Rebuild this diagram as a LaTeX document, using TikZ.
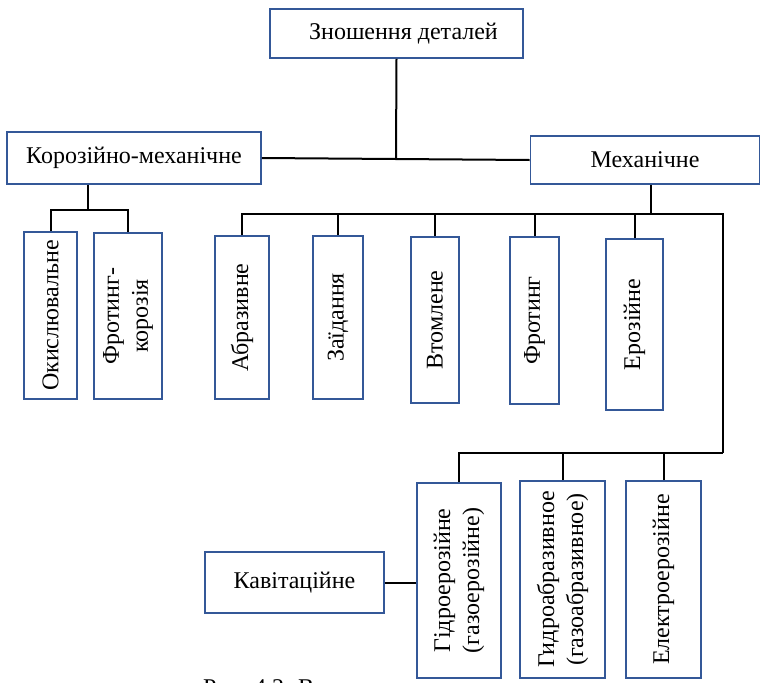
\documentclass[tikz,border=0pt]{standalone}
\usepackage{fontspec}
\setmainfont{Liberation Serif}
\definecolor{boxblue}{RGB}{52,88,152}
\begin{document}
\begin{tikzpicture}[x=1pt,y=-1pt,
  box/.style={draw=boxblue,line width=1.7pt,inner sep=0pt,fill=white},
  txt/.style={font=\fontsize{24}{29}\selectfont,inner sep=0pt},
  vtxt/.style={font=\fontsize{24}{29}\selectfont,inner sep=0pt,rotate=90,align=center},
  conn/.style={line width=2pt,black}]
\clip (0,0) rectangle (761,683);
% boxes
\node[box,minimum width=253,minimum height=49] (top) at (396.5,33.5) {};
\node[txt] at ([xshift=7]top.center) {Зношення деталей};
\node[box,minimum width=254,minimum height=52] (kor) at (134,158) {};
\node[txt] at (kor.center) {Корозійно-механічне};
\node[box,minimum width=229,minimum height=48] (mech) at (645,160) {};
\node[txt] at (mech.center) {Механічне};
\node[box,minimum width=53,minimum height=167] (ok) at (50.5,315.5) {};
\node[vtxt] at (ok.center) {Окислювальне};
\node[box,minimum width=68,minimum height=166] (frk) at (128,316) {};
\node[vtxt] at (frk.center) {Фротинг-\\корозія};
\node[box,minimum width=54,minimum height=163] (abr) at (242,317.5) {};
\node[vtxt] at (abr.center) {Абразивне};
\node[box,minimum width=50,minimum height=163] (zai) at (338,317.5) {};
\node[vtxt] at (zai.center) {Заїдання};
\node[box,minimum width=48,minimum height=166] (vto) at (435,320) {};
\node[vtxt] at (vto.center) {Втомлене};
\node[box,minimum width=49,minimum height=167] (fro) at (534.5,320.5) {};
\node[vtxt] at (fro.center) {Фротинг};
\node[box,minimum width=57,minimum height=171] (ero) at (634.5,324.5) {};
\node[vtxt] at (ero.center) {Ерозійне};
\node[box,minimum width=84,minimum height=195] (gid) at (459,580.5) {};
\node[vtxt] at (gid.center) {Гідроерозійне\\(газоерозійне)};
\node[box,minimum width=85,minimum height=197] (gab) at (562.5,579.5) {};
\node[vtxt] at (gab.center) {Гидроабразивное\\(газоабразивное)};
\node[box,minimum width=75,minimum height=197] (ele) at (663.5,579.5) {};
\node[vtxt] at (ele.center) {Електроерозійне};
\node[box,minimum width=179,minimum height=61] (kav) at (294.5,582.5) {};
\node[txt] at (kav.center) {Кавітаційне};
\node[txt,anchor=base west] (cap) at (203,695) {Рис. 4.2. В};
% junction coordinates
\coordinate (tj) at (396,158);
\coordinate (kj) at (88,210);
\coordinate (mj) at (651,214);
\coordinate (mr) at (723,214);
\coordinate (lr) at (723,453);
% connectors
\draw[conn] (top.south) -- (tj);
\draw[conn] (kor.east) -- (mech.west);
\draw[conn] (kj |- kor.south) -- (kj);
\draw[conn] (ok.north) |- (kj) -| (frk.north);
\draw[conn] (mj |- mech.south) -- (mj);
\draw[conn] (abr.north) |- (mr) -- (lr);
\foreach \n in {zai,vto,fro,ero}{\draw[conn] (\n.north) -- (\n.north |- mr);}
\draw[conn] (gid.north) |- (lr);
\foreach \n in {gab,ele}{\draw[conn] (\n.north) -- (\n.north |- lr);}
\draw[conn] (kav.east) -- (kav.east -| gid.west);
\end{tikzpicture}
\end{document}
